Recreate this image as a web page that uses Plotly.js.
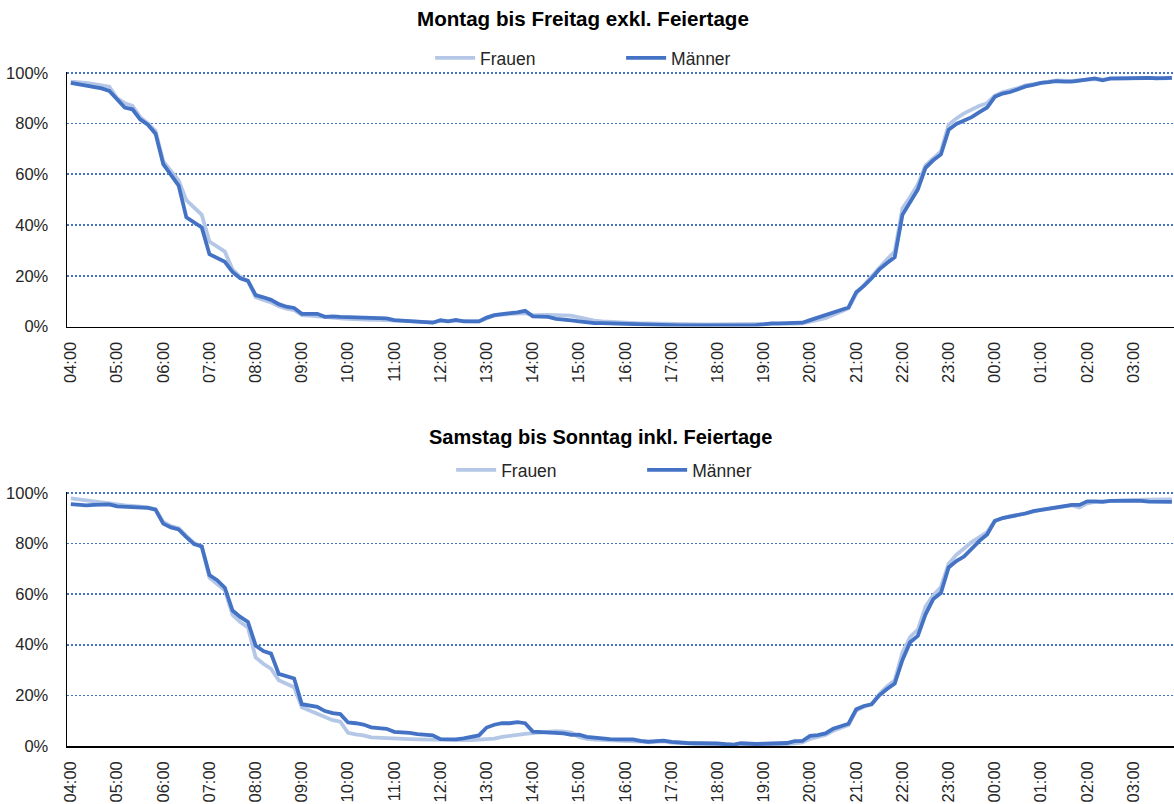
<!DOCTYPE html>
<html><head><meta charset="utf-8">
<script src="https://cdn.plot.ly/plotly-3.0.1.min.js"></script>
<style>html,body{margin:0;padding:0;background:#fff;overflow:hidden}#chart{width:1174px;height:804px}</style>
</head><body><div id="chart"></div>
<script>
// Hour tick labels (one category every 10 minutes between them)
const tickLabels = ["04:00","05:00","06:00","07:00","08:00","09:00","10:00","11:00","12:00","13:00","14:00","15:00",
  "16:00","17:00","18:00","19:00","20:00","21:00","22:00","23:00","00:00","01:00","02:00","03:00"];
const minuteSteps = ["00","10","20","30","40","50"];
const categories = [];
tickLabels.forEach(h => minuteSteps.forEach(m => categories.push(h.slice(0,3) + m)));

const yTickVals = [0, 20, 40, 60, 80, 100];
const yTickText = ["0%", "20%", "40%", "60%", "80%", "100%"];

const titleWeekday = "Montag bis Freitag exkl. Feiertage";
const titleWeekend = "Samstag bis Sonntag inkl. Feiertage";
const seriesNames = ["Frauen", "Männer"];

// Montag bis Freitag (values in %)
const wdFrauen = [
  96.5,96.3,96,95.5,95,94.5,90,88,87,82.5,80,77,
  65,61.5,57.5,49.8,47,44,33.5,31.5,29.5,22.5,19.5,18,
  11.5,10.5,9.5,8,7,6.5,4.5,4.3,4,3.5,3.3,3.2,
  3,2.8,2.7,2.6,2.6,2.6,2.3,2.2,2,1.9,1.7,1.6,
  2.2,2,2.3,2,2,2,3.3,4.3,4.7,5,5.2,5.3,
  4.5,4.7,4.6,4.5,4.4,4.3,3.6,2.8,2.3,2,1.8,1.6,
  1.4,1.3,1.2,1.2,1.1,1,0.9,0.8,0.8,0.8,0.8,0.8,
  0.8,0.8,0.8,0.8,0.8,0.8,0.8,0.9,0.9,1,1.1,1.2,
  1.8,2.6,3.3,4.5,6,7.2,13,16.5,20,23.5,26.5,29.5,
  46.5,51,56,63.5,66.5,69,79.5,82,84,85.5,87,88,
  91,92.3,93,94,95,95.5,96.2,96.6,97,96.9,96.8,97.1,
  97.3,97.5,97.3,97.6,97.8,97.7,97.8,97.8,97.9,98,97.8,98
];
const wdMaenner = [
  96,95.5,95,94.5,93.8,92.8,89.5,86.3,85.6,81.6,79.5,76,
  64,60,55.5,43,41,39,28.5,27,25.5,21.5,19,18,
  12.4,11.5,10.5,8.8,7.8,7.3,5,5,5,3.8,4,3.8,
  3.7,3.6,3.4,3.3,3.3,3.2,2.5,2.3,2,1.9,1.6,1.5,
  2.5,2,2.6,2,2,2,3.5,4.5,4.9,5.1,5.6,6.2,
  4,3.9,3.8,3,2.8,2.4,2,1.5,1.3,1.3,1.2,1.2,
  0.8,0.7,0.7,0.7,0.6,0.5,0.4,0.4,0.4,0.4,0.4,0.4,
  0.4,0.4,0.4,0.4,0.4,0.5,0.8,1.2,1.2,1.3,1.4,1.5,
  2.5,3.5,4.3,5.5,6.5,7.5,13.5,16,19,22.5,25,27.3,
  44,49,54,62.5,65.5,67.8,77.5,79.8,81,82.5,84.5,86.3,
  90.5,91.8,92.4,93.5,94.6,95.2,96,96.3,96.7,96.5,96.5,96.9,
  97.2,97.8,97,97.8,97.8,97.9,97.8,97.9,98,97.8,97.9,98
];
// Samstag bis Sonntag (values in %)
const weFrauen = [
  97.8,97.5,97.1,96.6,96.2,95.8,95.2,95,94.8,94.5,94.2,93.5,
  88.5,86.8,86,83,80.2,78.8,66.5,64,61.5,51.8,49,46.8,
  35,32.5,30.5,26,24.5,23.2,15.3,14,12.9,11.2,10.2,9.6,
  5.2,4.6,4.2,3.4,3.2,3.1,3,2.8,2.7,2.6,2.5,2.4,
  2.3,2.3,2.3,2.3,2.3,2.4,2.6,2.9,3.6,4.1,4.5,4.8,
  5.1,5.4,5.8,5.9,5.7,5.3,3.6,2.8,2.5,2.4,2.3,2.3,
  2.3,2.2,1.8,1.5,1.6,1.8,1.4,1.2,1.1,1,1,1,
  0.9,0.7,0.5,0.8,0.6,0.6,0.6,0.7,0.7,0.8,1.1,1.4,
  2.8,3.5,4.4,6,7.2,8.3,14,15.5,16.5,20.5,23.5,26,
  37,43,46,55,59.5,62.8,72,75.5,78,80.5,82.5,84.5,
  89,90,90.8,91.3,92,92.7,93.2,93.6,94,94.6,95,94.2,
  95.8,96.4,96.6,97,97.1,97.1,97.2,97.2,97.3,97.3,97.4,97.4
];
const weMaenner = [
  95.5,95.3,95,95.2,95.3,95.4,94.6,94.5,94.3,94.2,94,93.3,
  87.8,86.3,85.5,82.5,79.7,78.8,67.5,65.5,62.5,53.5,51,49,
  39.7,37.5,36.5,28.5,27.5,26.7,16.5,16,15.5,13.8,13,12.6,
  9.3,9,8.5,7.4,7.1,6.8,5.6,5.5,5.2,4.7,4.5,4.2,
  2.7,2.6,2.6,3,3.6,4.2,7.3,8.4,9,9,9.4,9,
  5.7,5.5,5.3,5.1,5,4.4,4.5,3.6,3.2,3,2.7,2.6,
  2.6,2.6,2,1.7,1.9,2.1,1.6,1.3,1.2,1.1,1.1,1.1,
  1,0.7,0.5,1.1,0.9,0.8,0.9,1,1.1,1.2,1.9,2,
  4,4.3,5,6.8,7.8,8.8,14.5,15.8,16.5,20,22.5,24.7,
  34,41,43.5,52,58,60.5,70.5,73,74.8,78,81,83.5,
  88.8,90,90.5,91,91.8,92.7,93.2,93.5,94.2,94.5,95.2,95.2,
  96.6,96.6,96.4,96.8,96.8,96.9,96.9,96.8,96.5,96.4,96.4,96.4
];

const cF = '#B4C7E7', cM = '#4472C4';
const FONT = 'Liberation Sans, Arial, sans-serif';
const txt = '#262626';

function tr(y, name, color, xa, ya, leg) {
  return {x: categories, y: y, name: name, type: 'scatter', mode: 'lines',
    line: {color: color, width: 3.8}, xaxis: xa, yaxis: ya, legend: leg, hoverinfo: 'x+y+name'};
}
const data = [
  tr(wdFrauen, seriesNames[0], cF, 'x', 'y', 'legend'),
  tr(wdMaenner, seriesNames[1], cM, 'x', 'y', 'legend'),
  tr(weFrauen, seriesNames[0], cF, 'x2', 'y2', 'legend2'),
  tr(weMaenner, seriesNames[1], cM, 'x2', 'y2', 'legend2')
];

function xax(anchor) {
  return {type: 'category', anchor: anchor, domain: [0, 1], range: [-0.5, 143.27],
    tickmode: 'array', tickvals: tickLabels, ticktext: tickLabels, tickangle: -90,
    tickfont: {family: FONT, size: 16.5, color: txt}, ticks: '', ticklabelstandoff: 7,
    showgrid: false, showline: true, linecolor: '#000', linewidth: 1.6, zeroline: false,
    automargin: false, fixedrange: true};
}
function yax(anchor, dom) {
  return {anchor: anchor, domain: dom, range: [0, 100.4], tickmode: 'array',
    tickvals: yTickVals, ticktext: yTickText, tickfont: {family: FONT, size: 16.5, color: txt},
    ticks: '', ticklabelstandoff: 14,
    showgrid: true, gridcolor: '#4472C4', gridwidth: 1.6, griddash: '2px,2px',
    showline: true, linecolor: '#000', linewidth: 1.4, zeroline: false, automargin: false, fixedrange: true};
}
function leg(x, y) {
  return {orientation: 'h', x: x, xanchor: 'left', y: y, yanchor: 'middle',
    font: {family: FONT, size: 17.5, color: txt}, entrywidth: 136, entrywidthmode: 'pixels',
    bgcolor: 'rgba(0,0,0,0)', traceorder: 'normal', itemwidth: 40};
}

const layout = {
  width: 1174, height: 804, margin: {l: 67, r: 0, t: 0, b: 0},
  paper_bgcolor: '#fff', plot_bgcolor: '#fff', showlegend: true,
  font: {family: FONT, color: txt},
  xaxis: xax('y'), yaxis: yax('x', [0.5939, 0.9108]),
  xaxis2: xax('y2'), yaxis2: yax('x2', [0.0721, 0.3884]),
  legend: leg(0.328, 0.9279), legend2: leg(0.347, 0.4154),
  annotations: [
    {text: '<b>' + titleWeekday + '</b>', xref: 'paper', yref: 'paper', x: 0.4661, y: 0.9776,
     xanchor: 'center', yanchor: 'middle', showarrow: false, font: {family: FONT, size: 20.6, color: '#000'}},
    {text: '<b>' + titleWeekend + '</b>', xref: 'paper', yref: 'paper', x: 0.4815, y: 0.4565,
     xanchor: 'center', yanchor: 'middle', showarrow: false, font: {family: FONT, size: 20, color: '#000'}}
  ]
};
Plotly.newPlot('chart', data, layout, {displayModeBar: false, staticPlot: true});
</script></body></html>
